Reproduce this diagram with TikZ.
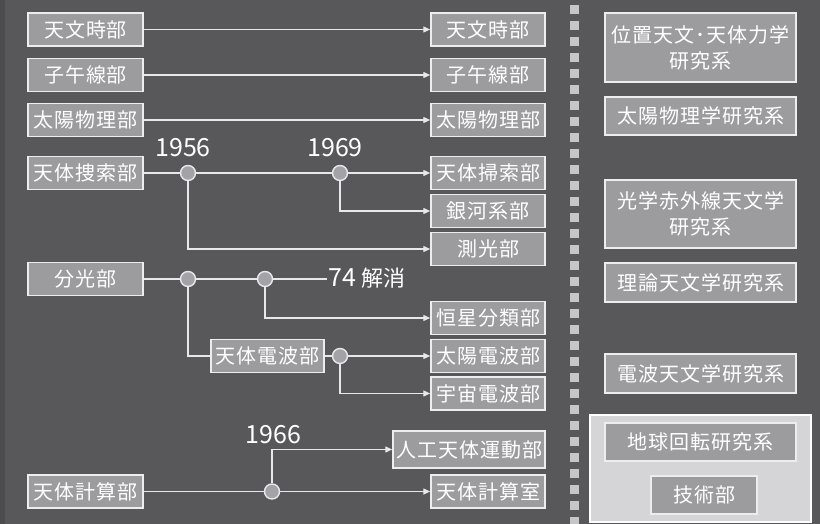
\documentclass[tikz,border=0pt]{standalone}
\usepackage{fontspec}
\setmainfont{Noto Sans CJK JP}
\usetikzlibrary{arrows.meta}
\definecolor{bg}{HTML}{58585B}
\definecolor{bgdark}{HTML}{4C4C4E}
\definecolor{boxfill}{HTML}{9C9C9F}
\definecolor{boxline}{HTML}{EDEDED}
\definecolor{linec}{HTML}{E8E8E8}
\definecolor{dotc}{HTML}{C6C6C8}
\definecolor{lightfill}{HTML}{D5D5D7}
\definecolor{circfill}{HTML}{A3A3A7}
\tikzset{
  dept/.style={draw=boxline, fill=boxfill, line width=1.5pt, text=white, inner sep=0pt,
    minimum height=33pt, font=\fontsize{20}{26}\selectfont\addfontfeature{LetterSpace=5}},
  lbox/.style={dept, minimum width=115pt},
  rbox/.style={dept, minimum width=114pt},
  sys/.style={dept, minimum width=191pt, align=center},
  junc/.style={circle, draw=linec, fill=circfill, line width=1.4pt, minimum size=15pt, inner sep=0pt},
  conn/.style={draw=linec, line width=1.4pt},
  arr/.style={conn, -{Triangle[length=7pt,width=6pt]}},
  yearlbl/.style={text=white, inner sep=0pt, font=\fontsize{25}{30}\selectfont}
}
\begin{document}
\begin{tikzpicture}[x=1pt,y=-1pt]
\useasboundingbox (0,0) rectangle (820,524);
\fill[bg] (0,0) rectangle (820,524);
\fill[bgdark] (0,0) rectangle (5,524);
% separator
\foreach \k in {0,...,32} \fill[dotc] (570,5+16*\k) rectangle ++(9,9);
% light group box
\fill[lightfill, draw=white, line width=1.5pt] (590,415) rectangle (811,522);

% left boxes
\node[lbox] (l1) at (85.5,29.5) {天文時部};
\node[lbox] (l2) at (85.5,75) {子午線部};
\node[lbox] (l3) at (85.5,120) {太陽物理部};
\node[lbox] (l4) at (85.5,173) {天体捜索部};
\node[lbox] (l5) at (85.5,279) {分光部};
\node[lbox] (l6) at (85.5,491.5) {天体計算部};

% right boxes
\node[rbox] (r1) at (488,29.5) {天文時部};
\node[rbox] (r2) at (488,75) {子午線部};
\node[rbox] (r3) at (488,120) {太陽物理部};
\node[rbox] (r4) at (488,173) {天体掃索部};
\node[rbox] (r5) at (488,211) {銀河系部};
\node[rbox] (r6) at (488,249) {測光部};
\node[rbox] (r7) at (488,318) {恒星分類部};
\node[rbox] (r8) at (488,356) {太陽電波部};
\node[rbox] (r9) at (488,393.5) {宇宙電波部};
\node[rbox, minimum width=152pt, minimum height=37pt] (r10) at (469,449.5) {人工天体運動部};
\node[rbox] (r11) at (488,491.5) {天体計算室};

% middle box
\node[dept, minimum width=113pt] (radio) at (267.5,356) {天体電波部};

% junctions
\node[junc] (c1956) at (188,173) {};
\node[junc] (c1969) at (340,173) {};
\node[junc] (ca) at (188,279) {};
\node[junc] (cb) at (265,279) {};
\node[junc] (cc) at (340,356) {};
\node[junc] (c1966) at (272,491.5) {};

% labels
\node[yearlbl] (y1956) at (183,148) {1956};
\node[yearlbl] (y1969) at (335,148) {1969};
\node[yearlbl] (y1966) at (273.5,435) {1966};
\node[yearlbl, anchor=west, inner sep=1pt] (end74) at (327,278) {74 {\fontsize{22}{26}\selectfont 解消}};

% connectors
\draw[arr] (l1) -- (r1);
\draw[arr] (l2) -- (r2);
\draw[arr] (l3) -- (r3);
\draw[conn] (l4) -- (c1956);
\draw[conn] (c1956) -- (c1969);
\draw[arr] (c1969) -- (r4);
\draw[arr] (c1969) |- (r5);
\draw[arr] (c1956) |- (r6);
\draw[conn] (l5) -- (ca);
\draw[conn] (ca) -- (cb);
\draw[conn] (cb) -- (end74.west |- cb);
\draw[arr] (cb) |- (r7);
\draw[conn] (ca) |- (radio);
\draw[conn] (radio) -- (cc);
\draw[arr] (cc) -- (r8);
\draw[arr] (cc) |- (r9);
\draw[conn] (l6) -- (c1966);
\draw[arr] (c1966) -- (r11);
\draw[arr] (c1966) |- (r10);

% research systems
\node[sys, minimum height=69pt] (s1) at (700.5,47.5) {位置天文･天体力学\\研究系};
\node[sys, minimum height=38pt] (s2) at (700.5,116) {太陽物理学研究系};
\node[sys, minimum height=68pt] (s3) at (700.5,214) {光学赤外線天文学\\研究系};
\node[sys, minimum height=39pt] (s4) at (700.5,282.5) {理論天文学研究系};
\node[sys, minimum height=39pt] (s5) at (700.5,373.5) {電波天文学研究系};
\node[sys, minimum height=38pt] (s6) at (700.5,442) {地球回転研究系};
\node[dept, minimum width=106pt, minimum height=38pt] (s7) at (704,495) {技術部};
\end{tikzpicture}
\end{document}
